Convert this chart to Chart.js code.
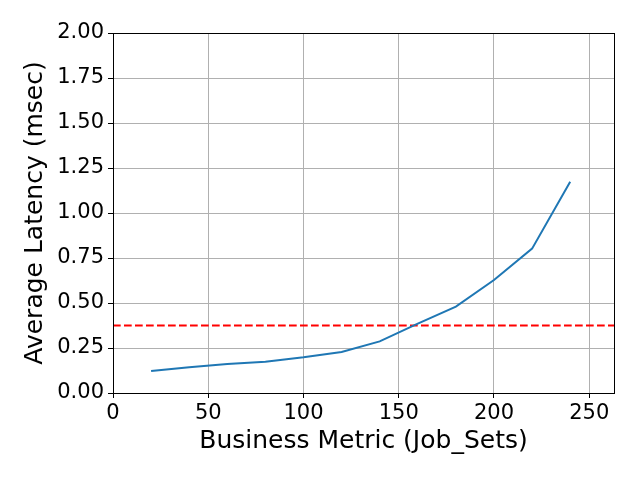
<!DOCTYPE html>
<html>
<head>
<meta charset="utf-8">
<script src="https://cdn.jsdelivr.net/npm/chart.js@4.4.1/dist/chart.umd.min.js"></script>
<style>
  html, body { margin: 0; padding: 0; background: #fff; }
  #wrap { width: 640px; height: 480px; }
</style>
</head>
<body>
<div id="wrap"><canvas id="chart" width="640" height="480"></canvas></div>
<script>
// values
const jobSets = [20, 40, 60, 80, 100, 120, 140, 160, 180, 200, 220, 240];
const latency = [0.122, 0.143, 0.161, 0.174, 0.198, 0.228, 0.287, 0.385, 0.48, 0.628, 0.802, 1.174];
const threshold = 0.375;
const xRange = [0, 263];
const yRange = [0, 2];
const xTicks = [0, 50, 100, 150, 200, 250];
const yTicks = [0, 0.25, 0.5, 0.75, 1, 1.25, 1.5, 1.75, 2];

const FONT = 'DejaVu Sans';

// black box around the plot area (the matplotlib spines)
const frame = {
  id: 'frame',
  afterDatasetsDraw(chart) {
    const { ctx, chartArea: a } = chart;
    ctx.save();
    ctx.strokeStyle = '#000';
    ctx.lineWidth = 1;
    ctx.strokeRect(Math.round(a.left) + 0.5, Math.round(a.top) + 0.5,
                   Math.round(a.right - a.left), Math.round(a.bottom - a.top));
    ctx.restore();
  }
};

const ctx = document.getElementById('chart').getContext('2d');
new Chart(ctx, {
  type: 'line',
  data: {
    datasets: [
      {
        data: jobSets.map((x, i) => ({ x, y: latency[i] })),
        borderColor: '#1f77b4',
        borderWidth: 2,
        pointRadius: 0,
        tension: 0
      },
      {
        data: xRange.map(x => ({ x, y: threshold })),
        borderColor: '#ff0000',
        borderWidth: 2,
        borderDash: [7.7, 3.3],
        pointRadius: 0
      }
    ]
  },
  options: {
    responsive: false,
    animation: false,
    layout: { padding: { left: 16, right: 26, top: 33, bottom: 20 } },
    plugins: { legend: { display: false }, tooltip: { enabled: false } },
    scales: {
      x: {
        type: 'linear',
        min: xRange[0],
        max: xRange[1],
        afterBuildTicks(scale) {
          scale.ticks = xTicks.map(value => ({ value }));
        },
        afterFit(scale) { scale.height = 67; },
        ticks: {
          color: '#000',
          padding: 3,
          font: { family: FONT, size: 21 }
        },
        grid: { color: '#b0b0b0', lineWidth: 1, tickColor: '#000', tickLength: 5 },
        border: { display: false },
        title: {
          display: true,
          text: 'Business Metric (Job_Sets)',
          color: '#000',
          font: { family: FONT, size: 25 }
        }
      },
      y: {
        min: yRange[0],
        max: yRange[1],
        afterBuildTicks(scale) {
          scale.ticks = yTicks.map(value => ({ value }));
        },
        afterFit(scale) { scale.width = 97; },
        ticks: {
          color: '#000',
          padding: 4,
          font: { family: FONT, size: 21 },
          callback: v => v.toFixed(2)
        },
        grid: { color: '#b0b0b0', lineWidth: 1, tickColor: '#000', tickLength: 5 },
        border: { display: false },
        title: {
          display: true,
          text: 'Average Latency (msec)',
          color: '#000',
          font: { family: FONT, size: 25 }
        }
      }
    }
  },
  plugins: [frame]
});
</script>
</body>
</html>
